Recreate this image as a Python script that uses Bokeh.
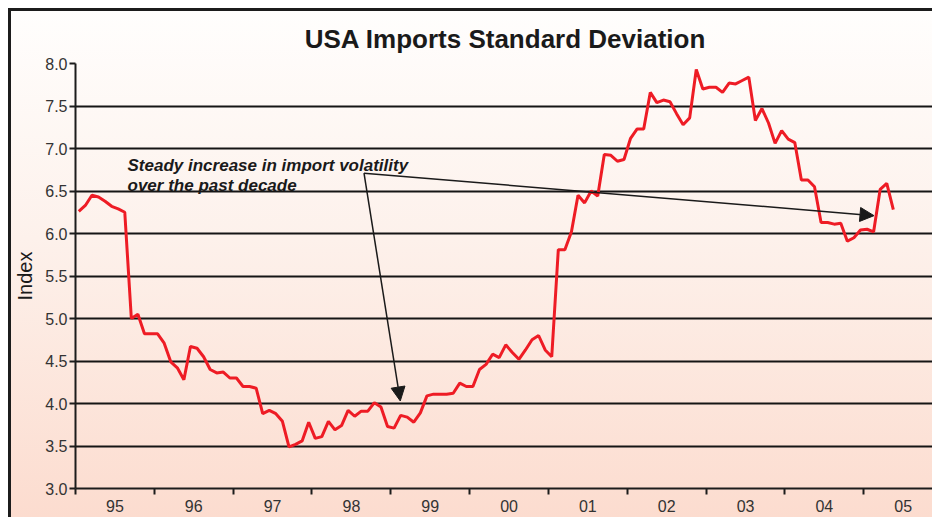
from bokeh.plotting import figure
from bokeh.models import (FixedTicker, NumeralTickFormatter, Range1d, Arrow,
                          NormalHead, Label)
from bokeh.embed import file_html
from bokeh.resources import INLINE

# ---- data -------------------------------------------------------------
title_text = "USA Imports Standard Deviation"
y_label = "Index"
start_year = 1995
# monthly standard deviation index, Jan 1995 .. May 2005
values = [
    6.26, 6.33, 6.45, 6.43, 6.38, 6.32, 6.29, 6.25, 5.00, 5.05, 4.82, 4.82,
    4.82, 4.71, 4.49, 4.42, 4.28, 4.67, 4.65, 4.55, 4.40, 4.36, 4.37, 4.30,
    4.30, 4.20, 4.20, 4.18, 3.88, 3.92, 3.88, 3.79, 3.49, 3.52, 3.56, 3.78,
    3.59, 3.61, 3.79, 3.69, 3.74, 3.92, 3.85, 3.91, 3.91, 4.01, 3.96, 3.73,
    3.71, 3.86, 3.84, 3.78, 3.89, 4.09, 4.11, 4.11, 4.11, 4.12, 4.24, 4.20,
    4.20, 4.40, 4.46, 4.58, 4.54, 4.69, 4.60, 4.52, 4.63, 4.75, 4.80, 4.63,
    4.55, 5.81, 5.81, 6.02, 6.45, 6.36, 6.50, 6.44, 6.93, 6.92, 6.85, 6.87,
    7.12, 7.23, 7.23, 7.66, 7.54, 7.57, 7.55, 7.41, 7.28, 7.36, 7.93, 7.70,
    7.72, 7.72, 7.66, 7.77, 7.76, 7.80, 7.84, 7.33, 7.47, 7.30, 7.06, 7.21,
    7.11, 7.07, 6.63, 6.63, 6.55, 6.13, 6.13, 6.11, 6.12, 5.91, 5.95, 6.04,
    6.05, 6.02, 6.52, 6.59, 6.28,
]
year_labels = ["95", "96", "97", "98", "99", "00", "01", "02", "03", "04", "05"]
y_ticks = [3.0, 3.5, 4.0, 4.5, 5.0, 5.5, 6.0, 6.5, 7.0, 7.5, 8.0]

note_lines = ["Steady increase in import volatility", "over the past decade"]
note_anchor = (1998.66, 6.71)
arrow_targets = [(1999.12, 4.03), (2005.13, 6.21)]

# ---- derived ----------------------------------------------------------
xs = [start_year + (i + 0.5) / 12.0 for i in range(len(values))]
year_mid = [start_year + k + 0.5 for k in range(len(year_labels))]
year_edges = [start_year + k for k in range(len(year_labels) + 1)]

p = figure(width=924, height=509, output_backend="svg", toolbar_location=None,
           x_range=Range1d(1995.0, 2005.91), y_range=Range1d(3.0, 8.0),
           min_border_left=63, min_border_right=0, min_border_top=52,
           min_border_bottom=32, title=title_text)
p.styles = {
    "margin-left": "8px",
    "margin-top": "8px",
    "background": "linear-gradient(180deg, #fffefd 0%, #fdf1eb 45%, #fcdccf 100%)",
    "border-left": "3px solid #1c1c1c",
    "border-top": "3px solid #1c1c1c",
}
p.border_fill_alpha = 0
p.background_fill_alpha = 0
p.outline_line_color = None

p.title.text_font = "Liberation Sans"
p.title.text_font_size = "26px"
p.title.text_font_style = "bold"
p.title.text_color = "#1a1a1a"
p.title.align = "center"
p.title.standoff = 20

p.line(xs, values, line_color="#ee1c25", line_width=3)

# y axis
ya = p.yaxis[0]
ya.ticker = FixedTicker(ticks=y_ticks)
ya.formatter = NumeralTickFormatter(format="0.0")
ya.axis_label = y_label
ya.axis_label_text_font = "Liberation Sans"
ya.axis_label_text_font_size = "20px"
ya.axis_label_text_font_style = "normal"
ya.axis_label_text_color = "#1a1a1a"
ya.axis_label_standoff = 6
ya.major_label_text_font = "Liberation Sans"
ya.major_label_text_font_size = "16px"
ya.major_label_text_color = "#333333"
ya.major_label_standoff = 2
ya.axis_line_color = "#1c1c1c"
ya.axis_line_width = 2
ya.major_tick_line_color = "#1c1c1c"
ya.major_tick_line_width = 2
ya.major_tick_out = 6
ya.major_tick_in = 0
ya.minor_tick_line_color = None

# x axis: labels at mid-year, ticks at year boundaries
xa = p.xaxis[0]
xa.ticker = FixedTicker(ticks=year_mid, minor_ticks=year_edges)
xa.major_label_overrides = {m: lab for m, lab in zip(year_mid, year_labels)}
xa.major_label_text_font = "Liberation Sans"
xa.major_label_text_font_size = "16px"
xa.major_label_text_color = "#333333"
xa.major_label_standoff = 5
xa.major_tick_line_color = None
xa.major_tick_out = 0
xa.major_tick_in = 0
xa.minor_tick_line_color = "#1c1c1c"
xa.minor_tick_line_width = 2
xa.minor_tick_out = 6
xa.minor_tick_in = 0
xa.axis_line_color = "#1c1c1c"
xa.axis_line_width = 2

p.xgrid.grid_line_color = None
p.ygrid.grid_line_color = "#151515"
p.ygrid.grid_line_width = 2

# annotation
for k, line in enumerate(note_lines):
    p.add_layout(Label(x=1995.66, y=6.80 - 0.235 * k, text=line,
                       text_font="Liberation Sans", text_font_size="17px",
                       text_font_style="bold italic", text_color="#1a1a1a",
                       text_baseline="alphabetic"))
for tx, ty in arrow_targets:
    p.add_layout(Arrow(end=NormalHead(size=14, fill_color="#1a1a1a",
                                      line_color="#1a1a1a"),
                       x_start=note_anchor[0], y_start=note_anchor[1],
                       x_end=tx, y_end=ty, line_color="#1a1a1a",
                       line_width=1.5))

open("out.html", "w").write(file_html(p, INLINE))
